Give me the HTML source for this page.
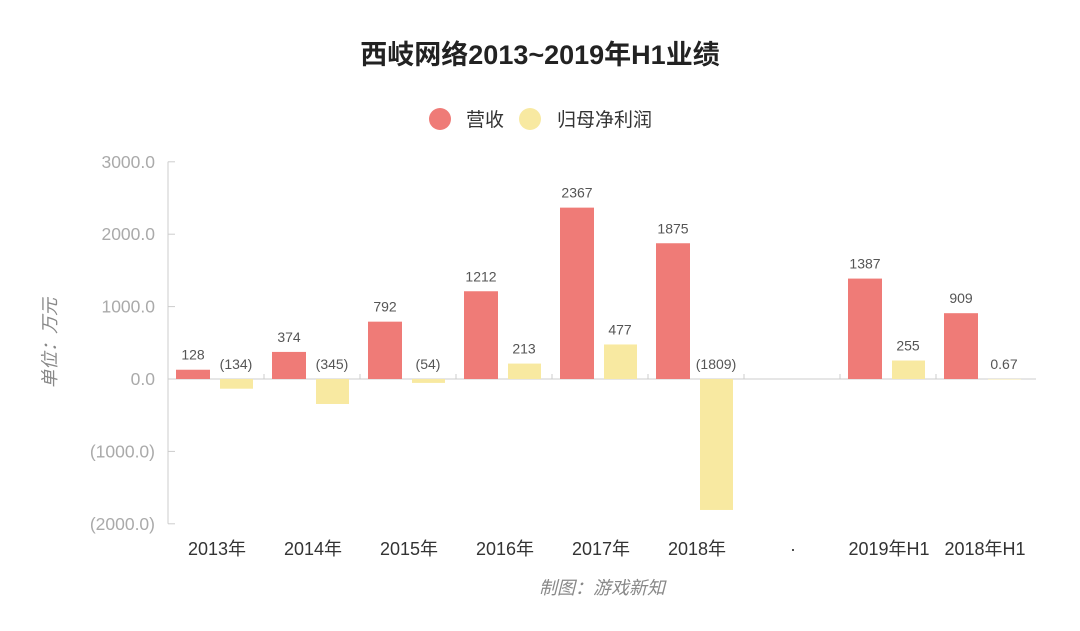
<!DOCTYPE html>
<html><head><meta charset="utf-8"><style>
body{margin:0;background:#fff;font-family:"Liberation Sans","Noto Sans CJK SC",sans-serif;}
</style></head><body>
<svg id="c" width="1080" height="626" xmlns="http://www.w3.org/2000/svg">
<text x="540" y="64" text-anchor="middle" font-size="27" font-weight="bold" fill="#222" font-family="Liberation Sans,Noto Sans CJK SC,sans-serif">西岐网络2013~2019年H1业绩</text>
<g font-size="19" fill="#333" font-family="Liberation Sans,Noto Sans CJK SC,sans-serif">
<circle cx="440" cy="119" r="11" fill="#ef7b77"/>
<text x="466" y="126">营收</text>
<circle cx="530" cy="119" r="11" fill="#f8e9a1"/>
<text x="557" y="126">归母净利润</text>
</g>
<text transform="translate(56,343) rotate(-90)" text-anchor="middle" font-size="18" font-style="italic" fill="#888" font-family="Liberation Sans,Noto Sans CJK SC,sans-serif">单位：万元</text>
<text x="602" y="594" text-anchor="middle" font-size="18" font-style="italic" fill="#888" font-family="Liberation Sans,Noto Sans CJK SC,sans-serif">制图：游戏新知</text>
<g id="g"></g>
</svg>
<script>
const categories=["2013年","2014年","2015年","2016年","2017年","2018年","·","2019年H1","2018年H1"];
const revenue=[128,374,792,1212,2367,1875,null,1387,909];
const profit=[-134,-345,-54,213,477,-1809,null,255,0.67];
const revenueLabels=["128","374","792","1212","2367","1875","","1387","909"];
const profitLabels=["(134)","(345)","(54)","213","477","(1809)","","255","0.67"];
const yTicks=[3000,2000,1000,0,-1000,-2000];
const yTickLabels=["3000.0","2000.0","1000.0","0.0","(1000.0)","(2000.0)"];
const NS="http://www.w3.org/2000/svg",g=document.getElementById('g');
const X0=168,CW=96,yS=v=>379-v*0.0724;
function mk(t,a,txt){const e=document.createElementNS(NS,t);for(const k in a)e.setAttribute(k,a[k]);if(txt!==undefined)e.textContent=txt;g.appendChild(e);return e;}
let e=mk('line',{x1:X0,y1:yS(3000),x2:X0,y2:yS(-2000),stroke:'#ccc'});


yTicks.forEach((v,i)=>{
 let t=mk('line',{x1:X0,y1:yS(v),x2:X0+7,y2:yS(v),stroke:'#ccc'});
 
 
 let l=mk('text',{x:X0-13,y:yS(v)+6,'text-anchor':'end','font-size':17.5,fill:'#aaa'},yTickLabels[i]);
 
 
});
e=mk('line',{x1:X0,y1:yS(0),x2:X0+CW*categories.length+4,y2:yS(0),stroke:'#ccc'});


categories.forEach((c,i)=>{
 const x=X0+CW*i;
 if(i>0){let t=mk('line',{x1:x,y1:yS(0)-5,x2:x,y2:yS(0),stroke:'#ccc'});
 
 }
 let l=mk('text',{x:x+CW/2+1,y:555,'text-anchor':'middle','font-size':18,fill:'#333'},c);
 
 
 if(revenue[i]!==null){
  const v=revenue[i];
  let b=mk('rect',{x:x+8,y:Math.min(yS(v),yS(0)),width:34,height:Math.abs(yS(v)-yS(0)),fill:'#ef7b77'});
  
  
  let t=mk('text',{x:x+25,y:Math.min(yS(v),yS(0))-10,'text-anchor':'middle','font-size':14,fill:'#555'},revenueLabels[i]);
  
  
 }
 if(profit[i]!==null){
  const v=profit[i];
  let b=mk('rect',{x:x+52,y:Math.min(yS(v),yS(0)),width:33,height:Math.max(Math.abs(yS(v)-yS(0)),0.5),fill:'#f8e9a1'});
  
  
  let t=mk('text',{x:x+68,y:Math.min(yS(Math.max(v,0)),yS(0))-10,'text-anchor':'middle','font-size':14,fill:'#555'},profitLabels[i]);
  
  
 }
});
</script>
</body></html>
